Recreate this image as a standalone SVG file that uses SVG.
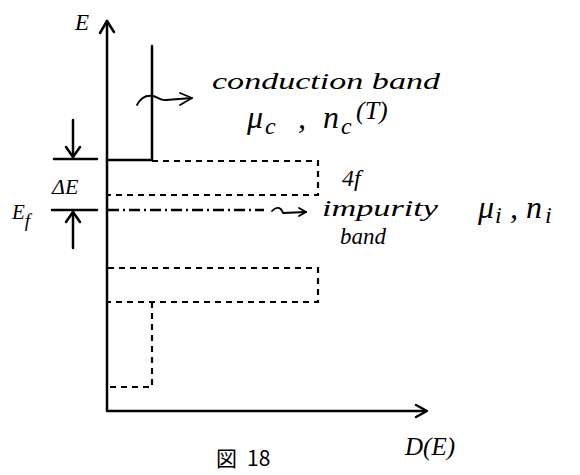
<svg xmlns="http://www.w3.org/2000/svg" width="580" height="475" viewBox="0 0 580 475">
<style>
.ax{fill:none;stroke:#000;stroke-width:2.5;stroke-linecap:round;stroke-linejoin:round}
.dash{fill:none;stroke:#000;stroke-width:2.2;stroke-dasharray:6 5}
.dd{fill:none;stroke:#000;stroke-width:2.5;stroke-dasharray:11 4 2 4}
.thin{fill:none;stroke:#000;stroke-width:1.8;stroke-linecap:round;stroke-linejoin:round}
.t{font-family:'Liberation Serif','Noto Sans CJK JP',serif;font-style:italic;fill:#000}
.cjk{font-family:'Noto Sans CJK JP','Liberation Sans',sans-serif;fill:#000}
</style>
<rect width="580" height="475" fill="#fff"/>
<g id="axes">
<path class="ax" d="M107,410 V21"/>
<path class="ax" d="M100,33 L107,21 L114,32"/>
<path class="ax" d="M107,411 H426"/>
<path class="ax" d="M416,405 L427,411 L416,417"/>
<text class="t" x="75" y="30" font-size="23">E</text>
<text class="t" x="405" y="455" font-size="25">D(E)</text>
</g>
<g id="conduction-band">
<path class="ax" d="M107,160 H152 V46"/>
</g>
<g id="4f-band">
<path class="dash" d="M152,161 H318 V195 H108"/>
<text class="t" x="342" y="186" font-size="24">4f</text>
</g>
<g id="impurity-level">
<path class="dd" d="M108,210 H264"/>
</g>
<g id="lower-band">
<path class="dash" d="M108,268 H318 V302 H108"/>
</g>
<g id="bottom-band">
<path class="dash" d="M152,302 V387 H108"/>
</g>
<g id="delta-e">
<path class="ax" d="M54,159 H97"/>
<path class="ax" d="M73,120 V157"/>
<path class="ax" d="M66,147 L73,157 L80,147"/>
<path class="ax" d="M52,210 H97"/>
<path class="ax" d="M73,248 V212"/>
<path class="ax" d="M66,222 L73,212 L80,222"/>
<text class="t" x="52" y="194" font-size="22">ΔE</text>
<text class="t" x="12" y="219" font-size="21">E<tspan font-size="19" dy="8">f</tspan></text>
</g>
<g id="connectors">
<path class="thin" d="M137,105 C141,97 147,95 153,96 C158,97 161,101 166,100 L192,98"/>
<path class="thin" d="M180,93 L192,98 L180,105"/>
<path class="thin" d="M272,211 C276,206 281,207 283,213 L306,212"/>
<path class="thin" d="M299,208 L306,212 L299,216"/>
</g>
<g id="labels">
<text class="t" x="212" y="89" font-size="24" textLength="228" lengthAdjust="spacingAndGlyphs">conduction band</text>
<text class="t" font-size="32"><tspan x="247" y="128">μ</tspan><tspan x="265" y="134" font-size="24">c</tspan><tspan x="298" y="128">,</tspan><tspan x="323" y="128">n</tspan><tspan x="341" y="134" font-size="24">c</tspan><tspan x="356" y="119" font-size="26">(T)</tspan></text>
<text class="t" x="322" y="216" font-size="23" textLength="116" lengthAdjust="spacingAndGlyphs">impurity</text>
<text class="t" x="340" y="244" font-size="23">band</text>
<text class="t" font-size="32"><tspan x="478" y="218">μ</tspan><tspan x="495" y="223" font-size="24">i</tspan><tspan x="510" y="218">,</tspan><tspan x="526" y="218">n</tspan><tspan x="545" y="223" font-size="24">i</tspan></text>
<text class="cjk" x="216" y="466" font-size="21">図<tspan dx="10">18</tspan></text>
</g>
</svg>
